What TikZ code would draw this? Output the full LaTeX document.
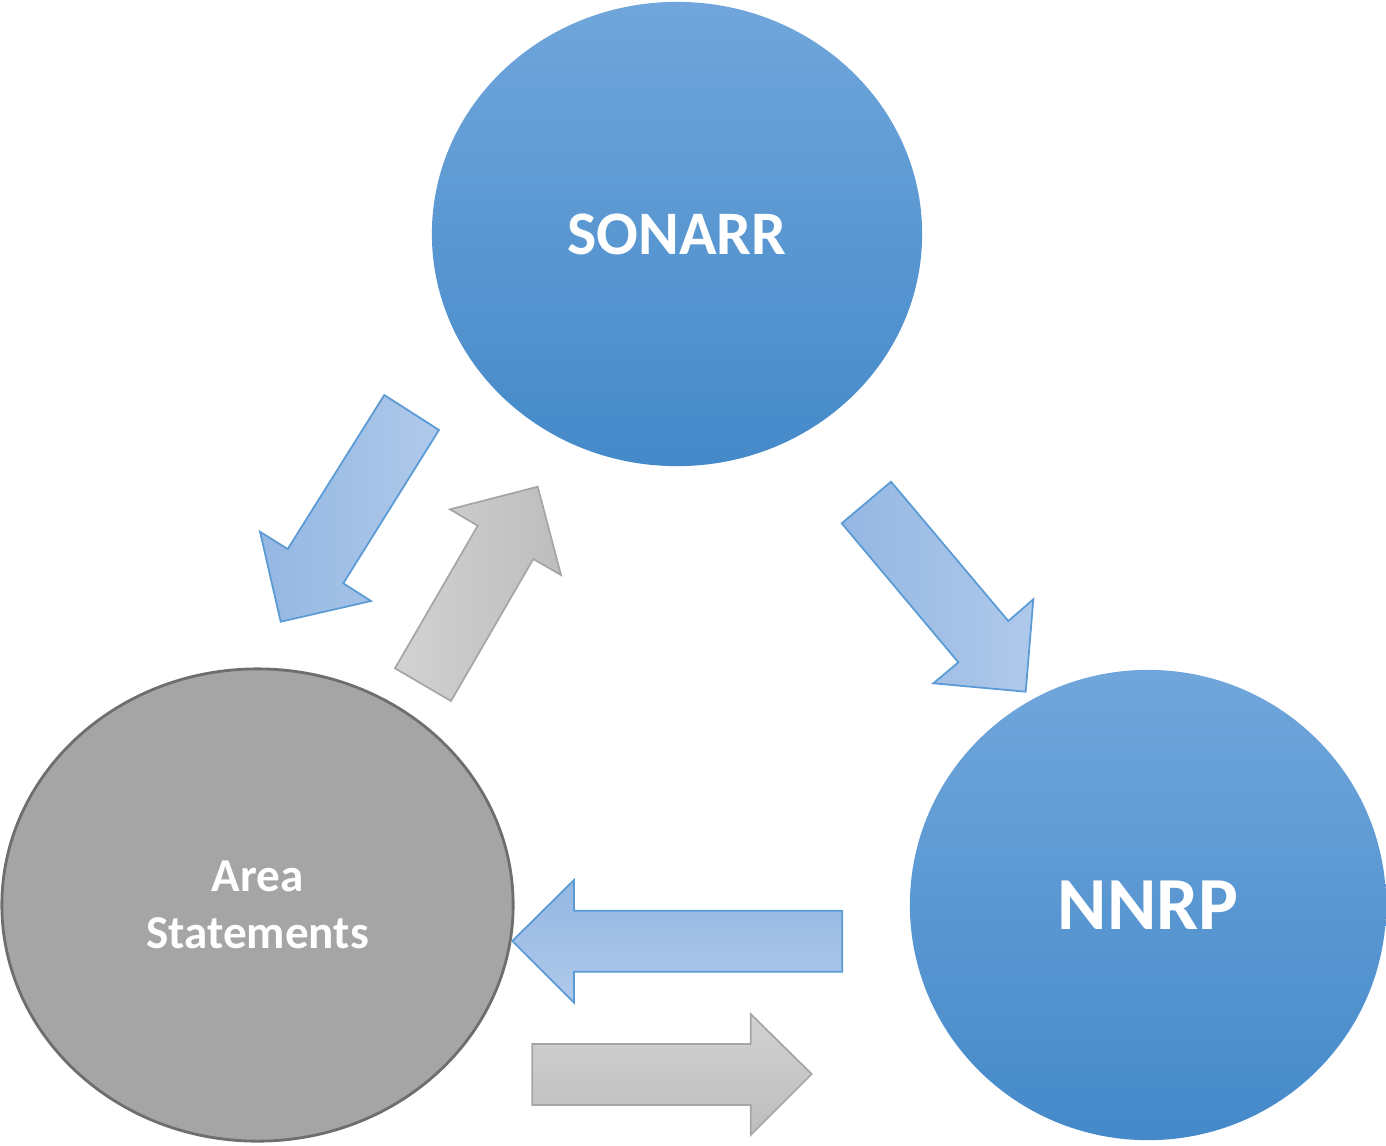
\documentclass[tikz,border=0pt]{standalone}
\usepackage{fontspec}
\setmainfont{Carlito}
\usetikzlibrary{shapes.geometric}
\definecolor{btop}{HTML}{70A6DB}
\definecolor{bmid}{HTML}{569CDD}
\definecolor{bbot}{HTML}{4489C9}
\definecolor{adark}{HTML}{94B7E2}
\definecolor{alight}{HTML}{AFC9EA}
\definecolor{aline}{HTML}{5B9BD5}
\definecolor{glight}{HTML}{D2D2D2}
\definecolor{gdark}{HTML}{BDBDBD}
\definecolor{gline}{HTML}{A6A6A6}
\definecolor{gfill}{HTML}{A5A5A5}
\definecolor{gborder}{HTML}{6E6E6E}
\tikzset{
  blueball/.style={ellipse, inner sep=0pt, draw=none, top color=btop, middle color=bmid, bottom color=bbot, text=white},
  grayball/.style={ellipse, inner sep=0pt, draw=gborder, line width=0.8pt, fill=gfill, text=white, align=center},
  bluearrow/.style={draw=aline, line width=0.5pt, line join=miter},
  grayarrow/.style={draw=gline, line width=0.5pt, line join=miter}
}
\begin{document}
\begin{tikzpicture}[x=0.01cm,y=-0.01cm]
\useasboundingbox (0,0) rectangle (1386,1145);

\node[blueball, minimum width=4.9cm, minimum height=4.64cm,
  font={\bfseries\fontsize{17.6}{21}\selectfont}] (sonarr) at (677,234) {SONARR};
\node[blueball, minimum width=4.76cm, minimum height=4.70cm,
  font={\bfseries\fontsize{21.3}{25}\selectfont}] (nnrp) at (1148,905) {NNRP};
\node[grayball, minimum width=5.11cm, minimum height=4.72cm,
  font={\bfseries\fontsize{13.4}{16.2}\selectfont}] (area) at (257.5,905) {Area\\Statements};

% blue arrow SONARR -> Area (down-left)
\draw[bluearrow, left color=adark, right color=alight]
  (384.3,395) -- (439,430) -- (343.3,583.3) -- (371,601) -- (280.7,621.7)
  -- (260,531.7) -- (287.7,549) -- cycle;
% gray arrow Area -> SONARR (up-right)
\draw[grayarrow, left color=glight, right color=gdark]
  (395,668.3) -- (477.7,525.7) -- (450,509.3) -- (537.7,486.7) -- (561,575)
  -- (533.3,559) -- (451,701) -- cycle;
% blue arrow SONARR -> NNRP (down-right)
\draw[bluearrow, left color=adark, right color=alight]
  (841.7,523.3) -- (891,481.7) -- (1008.3,621) -- (1033.3,599.3) -- (1025.7,691.7)
  -- (933.3,683.3) -- (958.3,662.3) -- cycle;
% blue arrow NNRP -> Area (left)
\draw[bluearrow, top color=adark, bottom color=alight]
  (512.3,941) -- (574,880) -- (574,910.7) -- (842.3,910.7) -- (842.3,971.7)
  -- (574,971.7) -- (574,1002.7) -- cycle;
% gray arrow Area -> NNRP (right)
\draw[grayarrow, top color=glight, bottom color=gdark]
  (532.3,1044) -- (750.7,1044) -- (750.7,1014) -- (811.7,1074) -- (750.7,1135)
  -- (750.7,1105) -- (532.3,1105) -- cycle;
\end{tikzpicture}
\end{document}
